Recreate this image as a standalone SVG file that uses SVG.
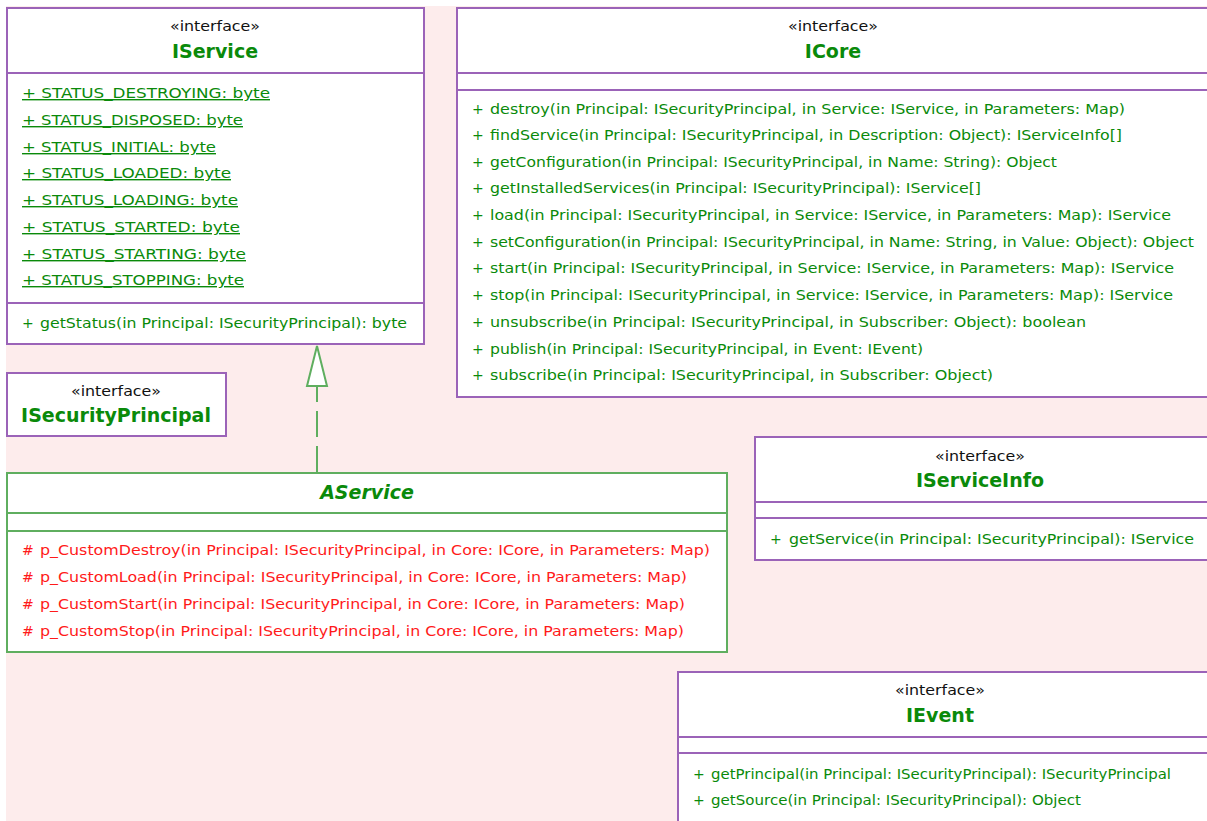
<svg xmlns="http://www.w3.org/2000/svg" width="1207" height="821" viewBox="0 0 1207 821">
  <defs>
    <style>
      .iface { fill: #ffffff; stroke: #9b63b8; stroke-width: 2; }
      .iline { stroke: #9b63b8; stroke-width: 2; }
      .cls { fill: #ffffff; stroke: #5fae5f; stroke-width: 2; }
      .cline { stroke: #5fae5f; stroke-width: 2; }
      text { font-family: "DejaVu Sans", "Liberation Sans", sans-serif; }
      .stereo { font-size: 14px; fill: #111111; text-anchor: middle; }
      .title { font-size: 19px; font-weight: bold; fill: #0a8a0a; text-anchor: middle; }
      .mem { font-size: 14px; fill: #0a8a0a; }
      .prot { font-size: 14px; fill: #ff1a1a; }
      .static { text-decoration: underline; }
    </style>
  </defs>

  <!-- canvas -->
  <rect x="0" y="0" width="1207" height="821" fill="#ffffff"/>
  <rect x="6" y="6" width="1201" height="815" fill="#fdecec"/>

  <!-- IService -->
  <g id="IService">
    <rect class="iface" x="7" y="8" width="417" height="336"/>
    <line class="iline" x1="7" y1="73" x2="424" y2="73"/>
    <line class="iline" x1="7" y1="303" x2="424" y2="303"/>
    <text class="stereo" x="215" y="31" textLength="90" lengthAdjust="spacingAndGlyphs">«interface»</text>
    <text class="title" x="215" y="58">IService</text>
    <text class="mem static" x="22" y="98" textLength="248" lengthAdjust="spacingAndGlyphs">+ STATUS_DESTROYING: byte</text>
    <text class="mem static" x="22" y="125" textLength="221" lengthAdjust="spacingAndGlyphs">+ STATUS_DISPOSED: byte</text>
    <text class="mem static" x="22" y="152" textLength="194" lengthAdjust="spacingAndGlyphs">+ STATUS_INITIAL: byte</text>
    <text class="mem static" x="22" y="178" textLength="209" lengthAdjust="spacingAndGlyphs">+ STATUS_LOADED: byte</text>
    <text class="mem static" x="22" y="205" textLength="216" lengthAdjust="spacingAndGlyphs">+ STATUS_LOADING: byte</text>
    <text class="mem static" x="22" y="232" textLength="218" lengthAdjust="spacingAndGlyphs">+ STATUS_STARTED: byte</text>
    <text class="mem static" x="22" y="259" textLength="224" lengthAdjust="spacingAndGlyphs">+ STATUS_STARTING: byte</text>
    <text class="mem static" x="22" y="285" textLength="222" lengthAdjust="spacingAndGlyphs">+ STATUS_STOPPING: byte</text>
    <text class="mem" x="22" y="328">+</text>
    <text class="mem" x="40" y="328" textLength="367" lengthAdjust="spacingAndGlyphs">getStatus(in Principal: ISecurityPrincipal): byte</text>
  </g>

  <!-- ICore -->
  <g id="ICore">
    <rect class="iface" x="457" y="8" width="760" height="389"/>
    <line class="iline" x1="457" y1="73" x2="1207" y2="73"/>
    <line class="iline" x1="457" y1="90" x2="1207" y2="90"/>
    <text class="stereo" x="833" y="31" textLength="90" lengthAdjust="spacingAndGlyphs">«interface»</text>
    <text class="title" x="833" y="58">ICore</text>
    <g class="mem">
      <text x="472" y="114">+</text><text x="490" y="114" textLength="635" lengthAdjust="spacingAndGlyphs">destroy(in Principal: ISecurityPrincipal, in Service: IService, in Parameters: Map)</text>
      <text x="472" y="140">+</text><text x="490" y="140" textLength="632" lengthAdjust="spacingAndGlyphs">findService(in Principal: ISecurityPrincipal, in Description: Object): IServiceInfo[]</text>
      <text x="472" y="167">+</text><text x="490" y="167" textLength="567" lengthAdjust="spacingAndGlyphs">getConfiguration(in Principal: ISecurityPrincipal, in Name: String): Object</text>
      <text x="472" y="193">+</text><text x="490" y="193" textLength="491" lengthAdjust="spacingAndGlyphs">getInstalledServices(in Principal: ISecurityPrincipal): IService[]</text>
      <text x="472" y="220">+</text><text x="490" y="220" textLength="681" lengthAdjust="spacingAndGlyphs">load(in Principal: ISecurityPrincipal, in Service: IService, in Parameters: Map): IService</text>
      <text x="472" y="247">+</text><text x="490" y="247" textLength="704" lengthAdjust="spacingAndGlyphs">setConfiguration(in Principal: ISecurityPrincipal, in Name: String, in Value: Object): Object</text>
      <text x="472" y="273">+</text><text x="490" y="273" textLength="684" lengthAdjust="spacingAndGlyphs">start(in Principal: ISecurityPrincipal, in Service: IService, in Parameters: Map): IService</text>
      <text x="472" y="300">+</text><text x="490" y="300" textLength="683" lengthAdjust="spacingAndGlyphs">stop(in Principal: ISecurityPrincipal, in Service: IService, in Parameters: Map): IService</text>
      <text x="472" y="327">+</text><text x="490" y="327" textLength="596" lengthAdjust="spacingAndGlyphs">unsubscribe(in Principal: ISecurityPrincipal, in Subscriber: Object): boolean</text>
      <text x="472" y="354">+</text><text x="490" y="354" textLength="433" lengthAdjust="spacingAndGlyphs">publish(in Principal: ISecurityPrincipal, in Event: IEvent)</text>
      <text x="472" y="380">+</text><text x="490" y="380" textLength="503" lengthAdjust="spacingAndGlyphs">subscribe(in Principal: ISecurityPrincipal, in Subscriber: Object)</text>
    </g>
  </g>

  <!-- ISecurityPrincipal -->
  <g id="ISecurityPrincipal">
    <rect class="iface" x="7" y="373" width="219" height="63"/>
    <text class="stereo" x="116" y="396" textLength="90" lengthAdjust="spacingAndGlyphs">«interface»</text>
    <text class="title" x="116" y="422">ISecurityPrincipal</text>
  </g>

  <!-- AService -->
  <g id="AService">
    <rect class="cls" x="7" y="473" width="720" height="179"/>
    <line class="cline" x1="7" y1="513" x2="727" y2="513"/>
    <line class="cline" x1="7" y1="531" x2="727" y2="531"/>
    <text class="title" x="367" y="499" font-style="italic">AService</text>
    <g class="prot">
      <text x="22" y="555">#</text><text x="40" y="555" textLength="670" lengthAdjust="spacingAndGlyphs">p_CustomDestroy(in Principal: ISecurityPrincipal, in Core: ICore, in Parameters: Map)</text>
      <text x="22" y="582">#</text><text x="40" y="582" textLength="647" lengthAdjust="spacingAndGlyphs">p_CustomLoad(in Principal: ISecurityPrincipal, in Core: ICore, in Parameters: Map)</text>
      <text x="22" y="609">#</text><text x="40" y="609" textLength="645" lengthAdjust="spacingAndGlyphs">p_CustomStart(in Principal: ISecurityPrincipal, in Core: ICore, in Parameters: Map)</text>
      <text x="22" y="636">#</text><text x="40" y="636" textLength="644" lengthAdjust="spacingAndGlyphs">p_CustomStop(in Principal: ISecurityPrincipal, in Core: ICore, in Parameters: Map)</text>
    </g>
  </g>

  <!-- IServiceInfo -->
  <g id="IServiceInfo">
    <rect class="iface" x="755" y="437" width="462" height="123"/>
    <line class="iline" x1="755" y1="502" x2="1207" y2="502"/>
    <line class="iline" x1="755" y1="518" x2="1207" y2="518"/>
    <text class="stereo" x="980" y="461" textLength="90" lengthAdjust="spacingAndGlyphs">«interface»</text>
    <text class="title" x="980" y="487">IServiceInfo</text>
    <text class="mem" x="770" y="544">+</text>
    <text class="mem" x="789" y="544" textLength="405" lengthAdjust="spacingAndGlyphs">getService(in Principal: ISecurityPrincipal): IService</text>
  </g>

  <!-- IEvent -->
  <g id="IEvent">
    <rect class="iface" x="678" y="672" width="539" height="160"/>
    <line class="iline" x1="678" y1="737" x2="1207" y2="737"/>
    <line class="iline" x1="678" y1="753" x2="1207" y2="753"/>
    <text class="stereo" x="940" y="695" textLength="90" lengthAdjust="spacingAndGlyphs">«interface»</text>
    <text class="title" x="940" y="722">IEvent</text>
    <text class="mem" x="693" y="779">+</text>
    <text class="mem" x="711" y="779" textLength="460" lengthAdjust="spacingAndGlyphs">getPrincipal(in Principal: ISecurityPrincipal): ISecurityPrincipal</text>
    <text class="mem" x="693" y="805">+</text>
    <text class="mem" x="711" y="805" textLength="370" lengthAdjust="spacingAndGlyphs">getSource(in Principal: ISecurityPrincipal): Object</text>
  </g>

  <!-- connectors -->
  <g id="connectors">
    <!-- AService realizes IService -->
    <line x1="317" y1="472" x2="317" y2="386" stroke="#5fae5f" stroke-width="2" stroke-dasharray="26,9"/>
    <polygon points="317,346 307,386 327,386" fill="#ffffff" stroke="#5fae5f" stroke-width="2"/>
  </g>
</svg>
